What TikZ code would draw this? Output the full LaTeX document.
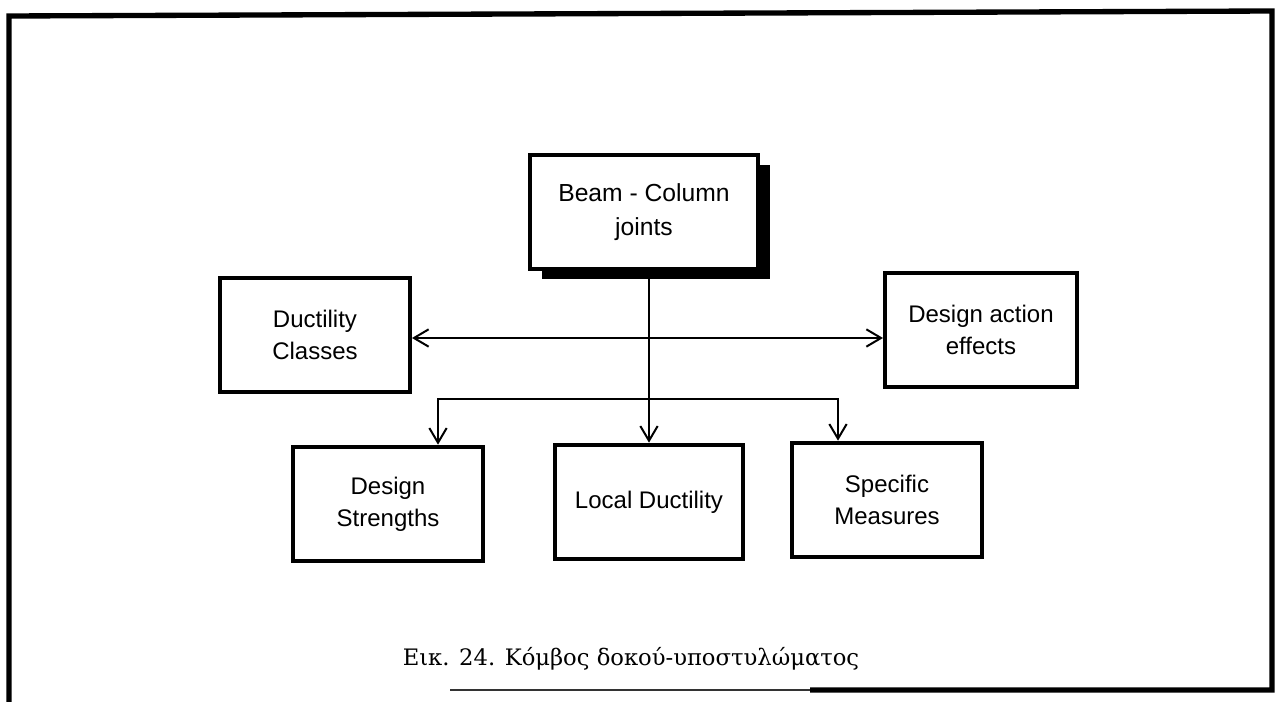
\documentclass[tikz,border=0pt]{standalone}
\usepackage{fontspec}
\setmainfont{Liberation Sans}
\newfontfamily\captionfont{DejaVu Serif}
\usetikzlibrary{arrows.meta,shadows}
\begin{document}
\begin{tikzpicture}[x=0.75pt,y=-0.75pt,
  box/.style={draw=black,line width=3pt,fill=white,minimum width=142.5pt,minimum height=86pt,
    align=center,inner sep=0pt,font=\fontsize{18}{24}\selectfont},
  conn/.style={line width=1.5pt,draw=black},
  tip/.style={-{Straight Barb[length=11pt,width=13pt,line width=1.5pt]}},
  tips/.style={{Straight Barb[length=11pt,width=13pt,line width=1.5pt]}-{Straight Barb[length=11pt,width=13pt,line width=1.5pt]}}]
\useasboundingbox (0,0) rectangle (1279,702);
\fill[white] (0,0) rectangle (1279,702);

% outer frame, open at the lower left
\draw[line width=4pt,line join=miter] (9,702) -- (9,16) -- (1272,11) -- (1272,690) -- (810,690);
\draw[line width=2pt,black!80] (810,690) -- (450,690);

% main box with a solid drop shadow
\node[box,minimum width=171pt,minimum height=86pt,
  drop shadow={shadow xshift=9pt,shadow yshift=-7.5pt,fill=black,opacity=1},
  font=\fontsize{18.5}{26}\selectfont] (beam) at (644,212) {Beam - Column\\joints};

\node[box] (dc)  at (315,335)  {Ductility\\Classes};
\node[box,minimum width=144pt] (dae) at (981,330)  {Design action\\effects};
\node[box] (ds)  at (388,504)  {Design\\Strengths};
\node[box,minimum width=141pt] (ld)  at (649,502)  {Local Ductility};
\node[box] (sm)  at (887,500)  {Specific\\Measures};

% connector levels
\coordinate (hy)  at (0,338);
\coordinate (bry) at (0,399);
\coordinate (dsx) at (438,0);
\coordinate (smx) at (838,0);

\draw[conn,tips] (dc.east |- hy) -- (dae.west |- hy);
\draw[conn,tip] (beam.south -| ld.north) -- (ld.north);
\draw[conn,tips] (ds.north -| dsx) |- (bry -| smx) -- (sm.north -| smx);

% caption
\node[anchor=base,font=\captionfont\fontsize{17}{20}\selectfont] (cap) at (631,665)
  {Εικ. 24. Κόμβος δοκού-υποστυλώματος};
\end{tikzpicture}
\end{document}
